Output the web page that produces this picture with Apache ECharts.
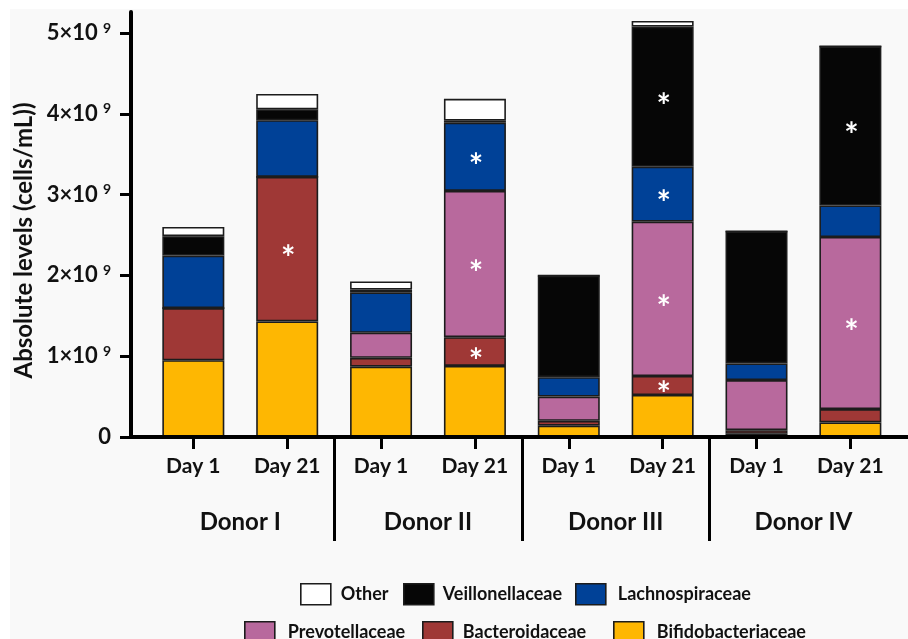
<!DOCTYPE html>
<html>
<head>
<meta charset="utf-8">
<script src="https://cdn.jsdelivr.net/npm/echarts@6/dist/echarts.min.js"></script>
<style>
  html, body { margin: 0; padding: 0; background: #ffffff; }
  #chart { position: absolute; left: 10px; top: 9px; width: 898px; height: 630px; }
</style>
</head>
<body>
<div id="chart"></div>
<script>
// Absolute bacterial levels per family, in units of 10^9 cells/mL
const dayLabels = ['Day 1', 'Day 21', 'Day 1', 'Day 21', 'Day 1', 'Day 21', 'Day 1', 'Day 21'];
const donorLabels = ['Donor I', 'Donor II', 'Donor III', 'Donor IV'];
const yTicks = [0, 1, 2, 3, 4, 5];

const bifidobacteriaceae = [0.95, 1.43, 0.87, 0.88, 0.14, 0.52, 0.04, 0.18];
const bacteroidaceae     = [0.645, 1.79, 0.11, 0.355, 0.06, 0.235, 0.045, 0.165];
const prevotellaceae     = [0, 0, 0.31, 1.81, 0.30, 1.91, 0.62, 2.13];
const lachnospiraceae    = [0.65, 0.70, 0.50, 0.845, 0.24, 0.68, 0.205, 0.39];
const veillonellaceae    = [0.24, 0.135, 0.035, 0.025, 1.257, 1.735, 1.635, 1.97];
const other              = [0.115, 0.19, 0.10, 0.27, 0, 0.07, 0, 0];

// significant change markers (asterisks)
const bifidobacteriaceaeSig = [0, 0, 0, 0, 0, 0, 0, 0];
const bacteroidaceaeSig     = [0, 1, 0, 1, 0, 1, 0, 0];
const prevotellaceaeSig     = [0, 0, 0, 1, 0, 1, 0, 1];
const lachnospiraceaeSig    = [0, 0, 0, 1, 0, 1, 0, 0];
const veillonellaceaeSig    = [0, 0, 0, 0, 0, 1, 0, 1];
const otherSig              = [0, 0, 0, 0, 0, 0, 0, 0];

const FONT = 'Lato';
const families = [
  { name: 'Bifidobacteriaceae', values: bifidobacteriaceae, sig: bifidobacteriaceaeSig, color: '#feb702' },
  { name: 'Bacteroidaceae',     values: bacteroidaceae,     sig: bacteroidaceaeSig,     color: '#9f3836' },
  { name: 'Prevotellaceae',     values: prevotellaceae,     sig: prevotellaceaeSig,     color: '#b8699d' },
  { name: 'Lachnospiraceae',    values: lachnospiraceae,    sig: lachnospiraceaeSig,    color: '#004197' },
  { name: 'Veillonellaceae',    values: veillonellaceae,    sig: veillonellaceaeSig,    color: '#060606' },
  { name: 'Other',              values: other,              sig: otherSig,              color: '#ffffff' }
];

const Y_MAX = 5.26;

// bars live on their own category grid, the visible axes on the outer grid
const series = families.map(f => ({
  name: f.name,
  type: 'bar',
  stack: 'total',
  xAxisIndex: 2,
  yAxisIndex: 1,
  barWidth: 62,
  itemStyle: { color: f.color, borderColor: '#1c1c1c', borderWidth: 1.6 },
  label: {
    show: true,
    position: 'inside',
    color: '#ffffff',
    fontFamily: FONT,
    fontWeight: 'bold',
    fontSize: 34,
    offset: [1, 10],
    formatter: p => (f.sig[p.dataIndex] ? '*' : '')
  },
  emphasis: { disabled: true },
  data: f.values
}));

// one legend block per entry so each sits where it belongs
const legendSpots = [
  { name: 'Other',              left: 290, top: 574, gap: 5 },
  { name: 'Veillonellaceae',    left: 393, top: 574, gap: 4 },
  { name: 'Lachnospiraceae',    left: 565, top: 574, gap: 7 },
  { name: 'Prevotellaceae',     left: 234, top: 612, gap: 8 },
  { name: 'Bacteroidaceae',     left: 412, top: 612, gap: 5 },
  { name: 'Bifidobacteriaceae', left: 603, top: 612, gap: 8 }
];
const legends = legendSpots.map(s => ({
  data: [s.name],
  left: s.left,
  top: s.top,
  padding: 0,
  itemWidth: 30,
  itemHeight: 21,
  selectedMode: false,
  icon: 'rect',
  itemStyle: { borderColor: '#1c1c1c', borderWidth: 1.6 },
  textStyle: { fontFamily: FONT, fontWeight: 'bold', fontSize: 18, color: '#111', padding: [0, 0, 0, s.gap] }
}));

const xMin = -0.164, xMax = 8.114;
const barCenters = dayLabels.map((_, i) => i + 0.5);

const option = {
  backgroundColor: '#f9f9f9',
  animation: false,
  grid: [
    { left: 121, right: 0, top: 3, bottom: 202, outerBoundsMode: 'none', containLabel: false },
    { left: 136.4, right: 10.7, top: 3, bottom: 202, outerBoundsMode: 'none', containLabel: false }
  ],
  legend: legends,
  xAxis: [
    {
      type: 'value', gridIndex: 0, min: xMin, max: xMax, position: 'bottom', z: 10,
      axisLine: { show: true, onZero: false, lineStyle: { color: '#000', width: 4 } },
      axisTick: { show: true, customValues: barCenters, length: 12, lineStyle: { color: '#000', width: 3 } },
      axisLabel: {
        customValues: barCenters, margin: 19,
        formatter: v => dayLabels[Math.round(v - 0.5)],
        fontFamily: FONT, fontWeight: 'bold', fontSize: 21, color: '#111'
      },
      splitLine: { show: false }
    },
    {
      type: 'value', gridIndex: 0, min: xMin, max: xMax, position: 'bottom', z: 10,
      axisLine: { show: false, onZero: false },
      axisTick: { show: true, customValues: [2, 4, 6], length: 104, lineStyle: { color: '#000', width: 3 } },
      axisLabel: {
        customValues: [1, 3, 5, 7], margin: 73,
        formatter: v => donorLabels[Math.round((v - 1) / 2)],
        fontFamily: FONT, fontWeight: 'bold', fontSize: 24, color: '#111'
      },
      splitLine: { show: false }
    },
    {
      type: 'category', gridIndex: 1, data: dayLabels, show: false,
      axisLine: { onZero: false }
    }
  ],
  yAxis: [
    {
      type: 'value', gridIndex: 0, min: 0, max: Y_MAX, z: 10,
      name: 'Absolute levels (cells/mL))',
      nameLocation: 'middle',
      nameGap: 86,
      nameTextStyle: { fontFamily: FONT, fontWeight: 'bold', fontSize: 24, color: '#111', padding: [0, 32, 0, 0] },
      axisLine: { show: true, onZero: false, lineStyle: { color: '#000', width: 4 } },
      axisTick: { show: true, customValues: yTicks, length: 11, lineStyle: { color: '#000', width: 3 } },
      axisLabel: {
        customValues: yTicks, margin: 20,
        formatter: v => (v === 0 ? '{a|0}' : '{a|' + v + '×10}{s|9}'),
        rich: {
          a: { fontFamily: FONT, fontWeight: 'bold', fontSize: 22, color: '#111' },
          s: { fontFamily: FONT, fontWeight: 'bold', fontSize: 14, color: '#111', verticalAlign: 'top', padding: [0, 0, 10, 5] }
        }
      },
      splitLine: { show: false }
    },
    {
      type: 'value', gridIndex: 1, min: 0, max: Y_MAX, show: false
    }
  ],
  series: series
};

const chart = echarts.init(document.getElementById('chart'), null, { renderer: 'canvas' });
chart.setOption(option);
</script>
</body>
</html>
